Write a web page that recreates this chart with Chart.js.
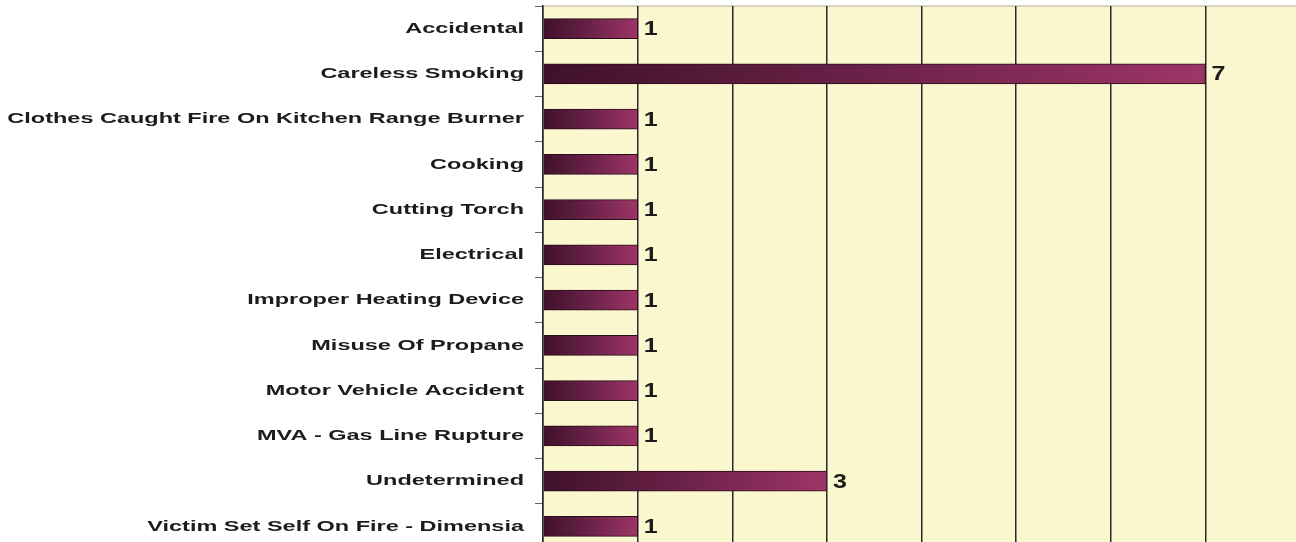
<!DOCTYPE html>
<html>
<head>
<meta charset="utf-8">
<script src="https://cdn.jsdelivr.net/npm/chart.js@4/dist/chart.umd.min.js"></script>
<style>
  html, body { margin: 0; padding: 0; background: #fff; overflow: hidden; }
  #wrap { width: 1300px; height: 549px; }
</style>
</head>
<body>
<div id="wrap"><canvas id="causeChart" width="1300" height="549"></canvas></div>
<script>
// categories and counts
const causes = [
    'Accidental',
    'Careless Smoking',
    'Clothes Caught Fire On Kitchen Range Burner',
    'Cooking',
    'Cutting Torch',
    'Electrical',
    'Improper Heating Device',
    'Misuse Of Propane',
    'Motor Vehicle Accident',
    'MVA - Gas Line Rupture',
    'Undetermined',
    'Victim Set Self On Fire - Dimensia'
];
const deaths = [1, 7, 1, 1, 1, 1, 1, 1, 1, 1, 3, 1];
const xTicks = [0, 1, 2, 3, 4, 5, 6, 7, 8];

const FONT = '"Liberation Sans", Arial, sans-serif';

// light yellow plot background
const plotBackground = {
    id: 'plotBackground',
    beforeDraw(chart) {
        const { ctx, chartArea: a } = chart;
        ctx.save();
        ctx.fillStyle = '#fbf7cf';
        ctx.fillRect(a.left, a.top, a.right - a.left, a.bottom - a.top);
        ctx.strokeStyle = '#c9c6ae';
        ctx.lineWidth = 1.5;
        ctx.beginPath();
        ctx.moveTo(a.left, a.top);
        ctx.lineTo(a.right, a.top);
        ctx.stroke();
        ctx.restore();
    }
};

// category names and value labels, drawn a bit stretched like the original
const labelsPlugin = {
    id: 'labelsPlugin',
    afterDatasetsDraw(chart) {
        const { ctx } = chart;
        const y = chart.scales.y;
        const x = chart.scales.x;
        ctx.save();
        ctx.fillStyle = '#1c1c1c';
        ctx.textBaseline = 'middle';
        causes.forEach((c, i) => {
            const py = y.getPixelForValue(i);
            ctx.save();
            ctx.translate(524, py);
            ctx.scale(1.515, 1);
            ctx.font = 'bold 15.5px ' + FONT;
            ctx.textAlign = 'right';
            ctx.fillText(c, 0, 0);
            ctx.restore();

            const px = x.getPixelForValue(deaths[i]);
            ctx.save();
            ctx.translate(px + 6, py + 1);
            ctx.scale(1.25, 1);
            ctx.font = 'bold 20px ' + FONT;
            ctx.textAlign = 'left';
            ctx.fillText(String(deaths[i]), 0, 0);
            ctx.restore();
        });
        ctx.restore();
    }
};

const ctx = document.getElementById('causeChart').getContext('2d');

const causeChart = new Chart(ctx, {
    type: 'bar',
    data: {
        labels: causes,
        datasets: [{
            data: deaths,
            backgroundColor: (context) => {
                const chart = context.chart;
                const area = chart.chartArea;
                if (!area) return '#8a2d5a';
                const right = chart.scales.x.getPixelForValue(deaths[context.dataIndex]);
                const g = chart.ctx.createLinearGradient(area.left, 0, right, 0);
                g.addColorStop(0, '#3f1129');
                g.addColorStop(0.5, '#6b2249');
                g.addColorStop(1, '#9e3567');
                return g;
            },
            borderColor: '#2a0d1c',
            borderWidth: 1,
            borderSkipped: 'left',
            barThickness: 20
        }]
    },
    options: {
        indexAxis: 'y',
        responsive: false,
        animation: false,
        layout: { padding: { top: 6, left: 0, right: 0, bottom: 0 } },
        plugins: {
            legend: { display: false },
            tooltip: { enabled: false }
        },
        scales: {
            x: {
                min: 0,
                max: 8,
                afterBuildTicks: (scale) => { scale.ticks = xTicks.map(v => ({ value: v })); },
                ticks: { display: false },
                border: { display: false },
                grid: { color: '#2a2a2a', lineWidth: 1.5, drawTicks: false },
                afterFit: (scale) => { scale.height = 0; }
            },
            y: {
                ticks: { display: false },
                border: { display: true, color: '#2a2a2a', width: 1.5 },
                grid: {
                    offset: true,
                    drawOnChartArea: false,
                    drawTicks: true,
                    tickLength: 8,
                    color: '#666'
                },
                afterFit: (scale) => { scale.width = 543; }
            }
        }
    },
    plugins: [plotBackground, labelsPlugin]
});
</script>
</body>
</html>
